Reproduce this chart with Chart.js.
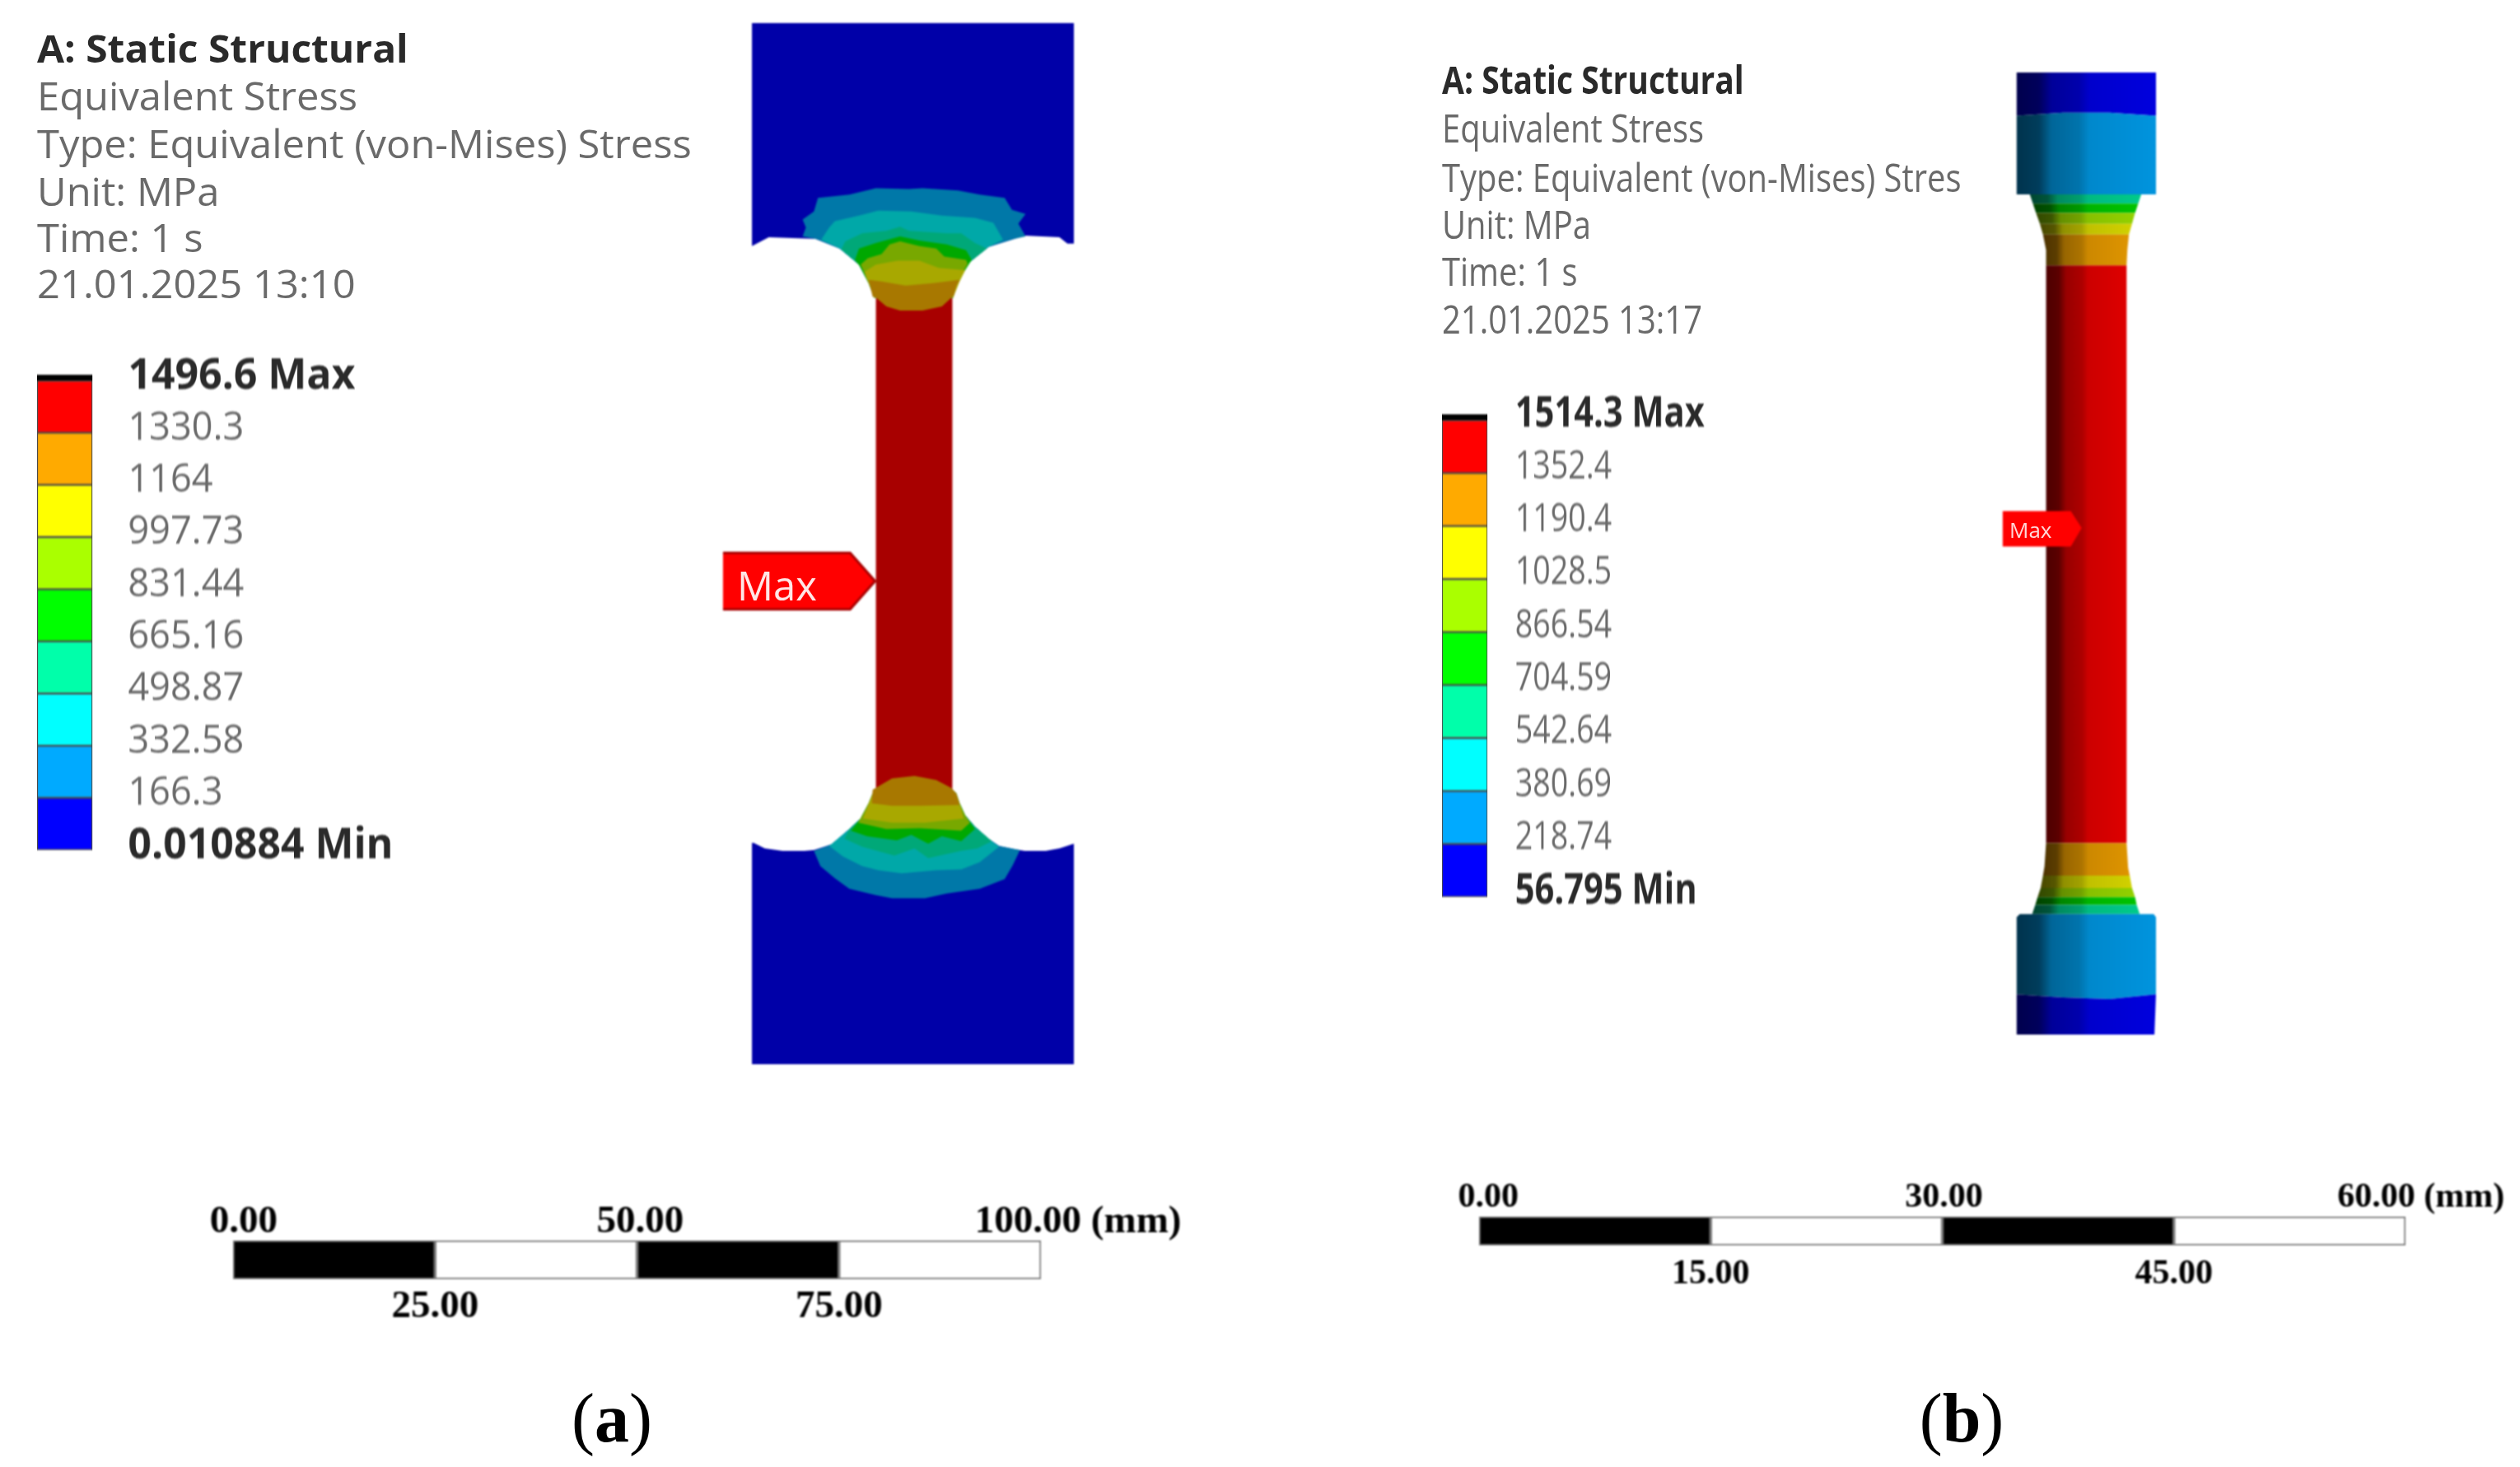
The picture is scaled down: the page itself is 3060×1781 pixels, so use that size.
<!DOCTYPE html>
<html>
<head>
<meta charset="utf-8">
<title>Equivalent stress</title>
<script src="https://cdn.jsdelivr.net/npm/chart.js@4"></script>
<style>
  html, body { margin: 0; background: #fff; }
  body { width: 3060px; height: 1781px; position: relative; overflow: hidden; }
  canvas { position: absolute; filter: blur(0.8px); }
  .txt { position: absolute; white-space: nowrap; font-family: "Open Sans", sans-serif; line-height: 1; color: #6a6a6a; filter: blur(0.6px); }
  .txt.bold { font-weight: 700; color: #2a2a2a; }
  .cap { position: absolute; font-family: "Liberation Serif", serif; font-size: 84px; line-height: 1; color: #000; transform: translate(-50%, -50%); }
</style>
</head>
<body>
<script>
// Header texts
const headerA = ['A: Static Structural', 'Equivalent Stress', 'Type: Equivalent (von-Mises) Stress', 'Unit: MPa', 'Time: 1 s', '21.01.2025 13:10'];
const headerB = ['A: Static Structural', 'Equivalent Stress', 'Type: Equivalent (von-Mises) Stres', 'Unit: MPa', 'Time: 1 s', '21.01.2025 13:17'];

// Contour legends, bottom to top (MPa)
const levelsA = [0.010884, 166.3, 332.58, 498.87, 665.16, 831.44, 997.73, 1164, 1330.3, 1496.6];
const levelLabelsA = ['0.010884 Min', '166.3', '332.58', '498.87', '665.16', '831.44', '997.73', '1164', '1330.3', '1496.6 Max'];
const levelsB = [56.795, 218.74, 380.69, 542.64, 704.59, 866.54, 1028.5, 1190.4, 1352.4, 1514.3];
const levelLabelsB = ['56.795 Min', '218.74', '380.69', '542.64', '704.59', '866.54', '1028.5', '1190.4', '1352.4', '1514.3 Max'];
const legendColors = ['#0000ff', '#00aaff', '#00ffff', '#00ffaa', '#00ff00', '#aaff00', '#ffff00', '#ffaa00', '#ff0000'];

// Scale bars (mm)
const scaleStopsA = [0, 25, 50, 75, 100];
const scaleTopLabelsA = ['0.00', '50.00', '100.00 (mm)'];
const scaleTopPosA = [1.3, 50.4, 104.6];
const scaleBottomLabelsA = ['25.00', '75.00'];
const scaleBottomPosA = [25, 75];
const scaleStopsB = [0, 15, 30, 45, 60];
const scaleTopLabelsB = ['0.00', '30.00', '60.00 (mm)'];
const scaleTopPosB = [0.6, 30.1, 61];
const scaleBottomLabelsB = ['15.00', '45.00'];
const scaleBottomPosB = [15, 45];

// Specimen (a), contour outlines, in mm from top left
const aNeck = [[15.4, 33], [24.9, 33], [24.9, 96], [15.4, 96]];
const aGripTop = [[0, 0], [40, 0], [40, 27.4], [39.2, 27.4], [38.2, 26.6], [33.8, 26.4], [32.6, 26.8], [29.4, 27.8], [26.8, 29.9], [25.4, 32.4], [25, 34.1], [15.2, 34.1], [14.5, 32.3], [13.3, 30], [10.9, 28], [7.9, 26.8], [2.1, 26.6], [0, 27.7]];
const aTop1 = [[6.3, 26.5], [6.7, 25.4], [6.3, 24.4], [7.7, 23.4], [8.2, 21.7], [12.1, 21.3], [15.4, 20.5], [19.5, 20.6], [21.2, 20.5], [25.6, 20.8], [28.3, 21.3], [31.4, 21.7], [32.3, 23.2], [34, 23.7], [33.1, 24.9], [34, 26.5], [32.6, 26.8], [29.4, 27.8], [26.8, 29.9], [25.4, 32.4], [25, 34.1], [15.2, 34.1], [14.5, 32.3], [13.3, 30], [10.9, 28], [7.9, 26.8]];
const aTop2 = [[8.6, 26.9], [9.6, 25.4], [10.3, 24.6], [13.3, 23.9], [15.7, 23.3], [19.8, 23.4], [23.6, 23.9], [27.7, 24.2], [30, 24.8], [31.2, 26.9], [29.4, 27.8], [26.8, 29.9], [25.4, 32.4], [25, 34.1], [15.2, 34.1], [14.5, 32.3], [13.3, 30], [10.9, 28]];
const aTop3 = [[11.1, 28.1], [11.6, 27.1], [13.7, 26.1], [16.7, 25.8], [18.4, 25.3], [19.5, 25.8], [24.2, 26.1], [26, 26.1], [27.7, 27.3], [29.2, 28], [26.8, 29.9], [25.4, 32.4], [25, 34.1], [15.2, 34.1], [14.5, 32.3], [13.3, 30]];
const aTop4 = [[12.8, 29.4], [13.3, 28], [15.4, 27.3], [18.4, 26.5], [20.8, 27], [24.2, 27.5], [26.6, 28.2], [27.3, 29.4], [27, 29.9], [25.4, 32.4], [25, 34.1], [15.2, 34.1], [14.5, 32.3], [13.4, 30.2]];
const aTop5 = [[13.5, 30], [14.4, 29.2], [16.1, 28.7], [17.1, 27.5], [18.4, 27.1], [20.8, 27.7], [22.9, 28], [23.9, 29], [26.6, 29.4], [26.8, 29.9], [25.4, 32.4], [25, 34.1], [15.2, 34.1], [14.5, 32.3]];
const aTop6 = [[14.2, 31.6], [14, 30.9], [15.4, 30], [18.1, 29.5], [20.8, 29.5], [23.2, 30.4], [26.5, 30.7], [25.8, 32.1], [25, 34.1], [15.2, 34.1], [14.6, 32.5]];
const aTop7 = [[14.5, 31.9], [16.1, 32.1], [19.1, 32.6], [22.5, 32.3], [25.8, 31.9], [25.4, 32.6], [25.1, 33.8], [23.6, 35.2], [21.2, 35.7], [18.4, 35.7], [16.7, 35.2], [15.4, 34.1], [15, 34]];
const aGripBottom = [[0, 129.3], [40, 129.3], [40, 101.9], [38.2, 102.5], [36.5, 102.8], [33.9, 102.8], [32.6, 102.6], [30.7, 102.2], [29.4, 101.3], [27.7, 99.8], [26.5, 98.4], [25.8, 96.9], [25.4, 95.7], [24.9, 95.2], [15.4, 95.2], [15, 95.7], [14.5, 96.9], [13.5, 98.8], [12.1, 100.1], [9.9, 102], [7.7, 102.7], [6.5, 102.8], [3.8, 102.8], [1.6, 102.5], [0.2, 101.8], [0, 101.8]];
const aBot1 = [[7.7, 102.8], [8.5, 104.7], [10.3, 106.2], [12.1, 107.5], [15.4, 108.3], [17.4, 108.7], [21.5, 108.7], [24.2, 108.1], [28.3, 107.5], [31.4, 106.3], [32.4, 104.6], [33.3, 102.7], [30.7, 102.2], [29.4, 101.3], [27.7, 99.8], [26.5, 98.4], [25.8, 96.9], [25.4, 95.7], [24.9, 95.2], [15.4, 95.2], [15, 95.7], [14.5, 96.9], [13.5, 98.8], [12.1, 100.1], [9.9, 102]];
const aBot2 = [[9.6, 102.2], [11.3, 103.5], [13.7, 104.7], [15.7, 105.2], [18.6, 105.6], [22.9, 105.2], [26, 105.1], [28.3, 104.2], [30.7, 102.3], [29.4, 101.3], [27.7, 99.8], [26.5, 98.4], [25.8, 96.9], [25.4, 95.7], [24.9, 95.2], [15.4, 95.2], [15, 95.7], [14.5, 96.9], [13.5, 98.8], [12.1, 100.1]];
const aBot3 = [[11.5, 101.3], [13.7, 102.3], [17.7, 103.4], [20.2, 102.5], [21.9, 103.7], [26, 102.8], [28, 102.5], [29.8, 101.6], [27.7, 99.8], [26.5, 98.4], [25.8, 96.9], [25.4, 95.7], [24.9, 95.2], [15.4, 95.2], [15, 95.7], [14.5, 96.9], [13.5, 98.8], [12.1, 100.1]];
const aBot4 = [[12.3, 100.3], [14.3, 101], [18, 101.5], [19.8, 100.8], [21.9, 101.9], [23.6, 101], [26, 101.6], [27.7, 100.1], [26.5, 98.4], [25.8, 96.9], [25.4, 95.7], [24.9, 95.2], [15.4, 95.2], [15, 95.7], [14.5, 96.9], [13.5, 98.8]];
const aBot5 = [[13.2, 99.3], [16.7, 100.1], [20.8, 100], [26, 100.3], [27.1, 99.3], [26.5, 98.4], [25.8, 96.9], [25.4, 95.7], [24.9, 95.2], [15.4, 95.2], [15, 95.7], [14.5, 96.9]];
const aBot6 = [[13.8, 98.8], [17.4, 99.3], [21.5, 99.3], [26.3, 98.8], [25.8, 96.9], [25.4, 95.7], [24.9, 95.2], [15.4, 95.2], [15, 95.7], [14.5, 96.9]];
const aBot7 = [[14.9, 96.9], [17.4, 97.2], [20.8, 97.2], [25.8, 97.1], [25.4, 95.7], [24.8, 95], [22.9, 94], [20.2, 93.5], [17.4, 93.8], [15.7, 94.8], [15, 95.2]];
const aMax = [[-3.6, 65.8], [12.2, 65.8], [15.3, 69.3], [12.2, 72.8], [-3.6, 72.8]];
const aColors = { blue: '#0000a8', b1: '#0078a8', b2: '#00a8a8', b3: '#00a878', b4: '#00a800', b5: '#78a800', b6: '#a8a800', b7: '#a87800', red: '#a80000', max: '#ff0000' };

// Specimen (b), in mm from top left
const bCapTop = [[0, 0], [9, 0], [9, 2.8], [6, 2.6], [3, 2.6], [0, 2.8]];
const bGripTop = [[0, 2.8], [3, 2.6], [6, 2.6], [9, 2.8], [9, 7.9], [0, 7.9]];
const bTealTop = [[0.85, 7.9], [8.05, 7.9], [7.85, 8.5], [1.05, 8.5]];
const bGreenTop = [[1.05, 8.5], [7.85, 8.5], [7.65, 9.1], [1.25, 9.1]];
const bLimeTop = [[1.25, 9.1], [7.65, 9.1], [7.45, 9.8], [1.5, 9.8]];
const bYellowTop = [[1.5, 9.8], [7.45, 9.8], [7.25, 10.5], [1.7, 10.5]];
const bOrangeTop = [[1.7, 10.5], [7.25, 10.5], [7.15, 11.5], [7.1, 12.5], [1.9, 12.5], [1.9, 11.5]];
const bNeck = [[1.9, 12.5], [7.1, 12.5], [7.1, 49.9], [1.9, 49.9]];
const bOrangeBot = [[1.9, 49.9], [7.1, 49.9], [7.2, 51.5], [7.3, 52], [1.7, 52], [1.8, 51.4]];
const bYellowBot = [[1.7, 52], [7.3, 52], [7.45, 52.8], [1.55, 52.8]];
const bLimeBot = [[1.55, 52.8], [7.45, 52.8], [7.65, 53.4], [1.35, 53.4]];
const bGreenBot = [[1.35, 53.4], [7.65, 53.4], [7.75, 53.9], [1.2, 53.9]];
const bTealBot = [[1.2, 53.9], [7.75, 53.9], [7.95, 54.5], [1, 54.5]];
const bGripBot = [[0, 54.7], [0.2, 54.5], [8.85, 54.5], [9, 54.7], [9, 59.7], [6, 60], [3, 59.9], [0, 59.7]];
const bCapBot = [[0, 59.7], [3, 59.9], [6, 60], [9, 59.7], [8.9, 62.3], [0, 62.3]];
const bMax = [[-0.9, 28.4], [3.5, 28.4], [4.2, 29.5], [3.5, 30.7], [-0.9, 30.7]];
const bColors = { blue: '#0000ff', sky: '#00aaff', teal: '#00e8a0', green: '#00e000', lime: '#a8f000', yellow: '#f0f000', orange: '#ffaa00', red: '#ff0000' };

Chart.defaults.animation = false;
Chart.defaults.responsive = false;
Chart.defaults.maintainAspectRatio = false;
Chart.defaults.plugins.legend.display = false;
Chart.defaults.plugins.tooltip.enabled = false;

function addCanvas(left, top, width, height, extraStyle) {
  const c = document.createElement('canvas');
  c.width = width;
  c.height = height;
  c.style.left = left + 'px';
  c.style.top = top + 'px';
  c.style.width = width + 'px';
  c.style.height = height + 'px';
  if (extraStyle) {
    c.style.transform = extraStyle;
    c.style.transformOrigin = 'left top';
  }
  document.body.appendChild(c);
  return c;
}

function addText(text, left, centerY, size, stretch, cls, color) {
  const d = document.createElement('div');
  d.className = 'txt' + (cls ? ' ' + cls : '');
  d.textContent = text;
  d.style.left = left + 'px';
  d.style.top = centerY + 'px';
  d.style.fontSize = size + 'px';
  d.style.transformOrigin = 'left center';
  d.style.transform = `translateY(-50%) scaleX(${stretch})`;
  if (color) d.style.color = color;
  document.body.appendChild(d);
}

function polyDataset(points, color, edge) {
  return {
    data: points.map(([x, y]) => ({ x, y })),
    showLine: true,
    fill: 'shape',
    tension: 0,
    pointRadius: 0,
    borderWidth: edge ? 3 : 0,
    borderColor: edge || 'transparent',
    backgroundColor: color
  };
}

// Lit from the right: darker towards the left edge of each band
const shadeStops = [[0, 0.3], [0.16, 0.36], [0.25, 0.6], [0.45, 0.68], [0.52, 0.8], [1, 0.87]];
function shaded(hex, points) {
  const xs = points.map(p => p[0]);
  const x0 = Math.min(...xs), x1 = Math.max(...xs);
  const r = parseInt(hex.slice(1, 3), 16), g = parseInt(hex.slice(3, 5), 16), b = parseInt(hex.slice(5, 7), 16);
  return ctx => {
    const chart = ctx.chart;
    if (!chart.chartArea) return hex;
    const grad = chart.ctx.createLinearGradient(chart.scales.x.getPixelForValue(x0), 0, chart.scales.x.getPixelForValue(x1), 0);
    shadeStops.forEach(([at, k]) => grad.addColorStop(at, `rgb(${r * k},${g * k},${b * k})`));
    return grad;
  };
}

function renderSpecimen(left, top, width, height, xMin, xMax, yMax, layers) {
  const canvas = addCanvas(left, top, width, height);
  return new Chart(canvas, {
    type: 'scatter',
    // first dataset is painted last, so the painter's order goes in reversed
    data: { datasets: layers.slice().reverse() },
    options: {
      layout: { padding: 0 },
      scales: {
        x: { type: 'linear', min: xMin, max: xMax, display: false },
        y: { type: 'linear', min: 0, max: yMax, reverse: true, display: false }
      }
    }
  });
}

function renderLegend(left, top, barHeight, barWidth, pad, stretch, levels, labels, topValue, labelShift) {
  const canvasWidth = 560;
  const axisWidth = canvasWidth - barWidth;
  const canvas = addCanvas(left, top - 40, canvasWidth, barHeight + 80, `scaleX(${stretch})`);
  const isEnd = i => i === 0 || i === labels.length - 1;
  const datasets = legendColors.map((color, i) => ({
    data: [[levels[i], levels[i + 1]]],
    backgroundColor: color,
    borderColor: '#4a4a4a',
    borderWidth: 1.5,
    borderSkipped: false,
    barPercentage: 1,
    categoryPercentage: 1,
    grouped: false
  }));
  datasets.push({
    data: [[levels[levels.length - 1], topValue]],
    backgroundColor: '#000',
    borderWidth: 0,
    barPercentage: 1,
    categoryPercentage: 1,
    grouped: false
  });
  return new Chart(canvas, {
    type: 'bar',
    data: { labels: [''], datasets },
    options: {
      layout: { padding: { top: 40, bottom: 40 } },
      scales: {
        x: { display: false },
        y: {
          position: 'right',
          min: levels[0],
          max: topValue,
          grid: { display: false },
          border: { display: false },
          afterBuildTicks: scale => { scale.ticks = levels.map(value => ({ value })); },
          afterFit: scale => { scale.width = axisWidth; scale.paddingTop = 0; scale.paddingBottom = 0; },
          ticks: {
            autoSkip: false,
            padding: pad,
            labelOffset: labelShift,
            callback: (v, i) => labels[i],
            color: c => isEnd(c.index) ? '#2a2a2a' : '#6a6a6a',
            font: c => ({
              family: '"Open Sans"',
              size: isEnd(c.index) ? 52 : 47,
              weight: isEnd(c.index) ? '700' : '400'
            })
          }
        }
      }
    }
  });
}

function renderScaleBar(left, top, width, barHeight, padL, padR, stops, topLabels, topPos, bottomLabels, bottomPos, size, padTop, padBottom) {
  const axisHeight = 60;
  const canvas = addCanvas(left, top - axisHeight, width, barHeight + axisHeight * 2);
  const datasets = stops.slice(0, -1).map((s, i) => ({
    data: [[s, stops[i + 1]]],
    backgroundColor: i % 2 === 0 ? '#000' : '#fff',
    borderColor: '#777',
    borderWidth: 2,
    borderSkipped: false,
    barPercentage: 1,
    categoryPercentage: 1,
    grouped: false,
    xAxisID: 'xTop'
  }));
  const tickFont = { family: '"Liberation Serif"', size, weight: '700' };
  const axis = (position, labels, positions, padding) => ({
    type: 'linear',
    axis: 'x',
    position,
    min: stops[0],
    max: stops[stops.length - 1],
    grid: { display: false },
    border: { display: false },
    afterBuildTicks: scale => { scale.ticks = positions.map(value => ({ value })); },
    afterFit: scale => { scale.height = axisHeight; scale.paddingLeft = 0; scale.paddingRight = 0; },
    ticks: { autoSkip: false, maxRotation: 0, padding, color: '#000', font: tickFont, callback: (v, i) => labels[i] }
  });
  return new Chart(canvas, {
    type: 'bar',
    data: { labels: [''], datasets },
    options: {
      indexAxis: 'y',
      layout: { padding: { left: padL, right: padR } },
      scales: {
        y: { display: false },
        xTop: axis('top', topLabels, topPos, padTop),
        xBottom: axis('bottom', bottomLabels, bottomPos, padBottom)
      }
    }
  });
}

function addCaption(letter, x, y) {
  const d = document.createElement('div');
  d.className = 'cap';
  d.style.left = x + 'px';
  d.style.top = y + 'px';
  d.innerHTML = `(<b>${letter}</b>)`;
  document.body.appendChild(d);
}

// Panel (a)
const headerYA = [58, 116, 174, 232, 288, 344];
headerA.forEach((t, i) => addText(t, 45, headerYA[i], 47, i === 0 ? 1.02 : 1.04, i === 0 ? 'bold' : '', null));
renderLegend(45, 455, 577, 70, 37, 0.96, levelsA, levelLabelsA, 1515, -5);
renderSpecimen(874, 28, 430, 1264, -4, 40, 129.3, [
  polyDataset(aNeck, aColors.red),
  polyDataset(aGripTop, aColors.blue),
  polyDataset(aTop1, aColors.b1),
  polyDataset(aTop2, aColors.b2),
  polyDataset(aTop3, aColors.b3),
  polyDataset(aTop4, aColors.b4),
  polyDataset(aTop5, aColors.b5),
  polyDataset(aTop6, aColors.b6),
  polyDataset(aTop7, aColors.b7),
  polyDataset(aGripBottom, aColors.blue),
  polyDataset(aBot1, aColors.b1),
  polyDataset(aBot2, aColors.b2),
  polyDataset(aBot3, aColors.b3),
  polyDataset(aBot4, aColors.b4),
  polyDataset(aBot5, aColors.b5),
  polyDataset(aBot6, aColors.b6),
  polyDataset(aBot7, aColors.b7),
  polyDataset(aMax, aColors.max, '#a80000')
]);
addText('Max', 895, 710, 49, 1, '', '#ffe6e6');
renderScaleBar(233, 1506, 1211, 47, 50, 180, scaleStopsA, scaleTopLabelsA, scaleTopPosA, scaleBottomLabelsA, scaleBottomPosA, 47, -14, -2);
addCaption('a', 743, 1722);

// Panel (b)
const headerYB = [96, 155, 215, 272, 329, 387];
headerB.forEach((t, i) => addText(t, 1751, headerYB[i], 47, i === 0 ? 0.83 : 0.85, i === 0 ? 'bold' : '', null));
renderLegend(1751, 503, 586, 69, 34, 0.8, levelsB, levelLabelsB, 1532, -7);
const bBands = [
  [bCapTop, bColors.blue], [bGripTop, bColors.sky], [bTealTop, bColors.teal], [bGreenTop, bColors.green],
  [bLimeTop, bColors.lime], [bYellowTop, bColors.yellow], [bOrangeTop, bColors.orange], [bNeck, bColors.red],
  [bOrangeBot, bColors.orange], [bYellowBot, bColors.yellow], [bLimeBot, bColors.lime], [bGreenBot, bColors.green],
  [bTealBot, bColors.teal], [bGripBot, bColors.sky], [bCapBot, bColors.blue]
];
renderSpecimen(2430, 88, 188, 1168, -1, 9, 62.3, bBands.map(([p, c]) => polyDataset(p, shaded(c, p))).concat([polyDataset(bMax, '#ff0000')]));
addText('Max', 2440, 643, 26, 1, '', '#ffd8d8');
renderScaleBar(1746, 1477, 1304, 35, 50, 129, scaleStopsB, scaleTopLabelsB, scaleTopPosB, scaleBottomLabelsB, scaleBottomPosB, 42, -10, 2);
addCaption('b', 2382, 1722);
</script>
</body>
</html>
